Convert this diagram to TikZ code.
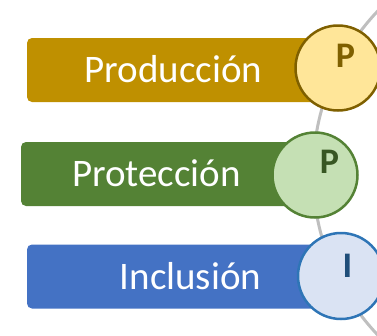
\documentclass[tikz,border=0pt]{standalone}
\usepackage{fontspec}
\setmainfont{Carlito}
\definecolor{goldbox}{HTML}{BF9000}
\definecolor{goldfill}{HTML}{FFE699}
\definecolor{golddark}{HTML}{7F6000}
\definecolor{greenbox}{HTML}{548235}
\definecolor{greenfill}{HTML}{C5E0B4}
\definecolor{greendark}{HTML}{385723}
\definecolor{bluebox}{HTML}{4472C4}
\definecolor{bluefill}{HTML}{DAE3F3}
\definecolor{blueline}{HTML}{2E75B6}
\definecolor{bluedark}{HTML}{1F4E79}
\definecolor{arcgrey}{HTML}{BFBFBF}
\tikzset{
  labelbox/.style={rectangle, rounded corners=5pt, draw=none, text=white,
    minimum height=64pt, inner sep=0pt, text height=25pt, text depth=0pt,
    font=\fontsize{39}{40}\selectfont},
  badge/.style={circle, line width=2.5pt, minimum size=#1, inner sep=0pt},
  letter/.style={anchor=base, inner sep=0pt, font=\fontsize{36}{37}\selectfont\bfseries}
}
\begin{document}
\begin{tikzpicture}[x=1pt,y=-1pt]
\useasboundingbox (0,0) rectangle (377,335);
% background arc
\begin{scope}
\clip (0,0) rectangle (377,335);
\draw[arcgrey, line width=3pt] (548,173) circle (235);
\end{scope}
% boxes
\node[labelbox, fill=goldbox, minimum width=293pt] (prod) at (173.5,70) {Producción};
\node[labelbox, fill=greenbox, minimum width=271pt] (prot) at (156.5,174) {Protección};
\node[labelbox, fill=bluebox, minimum width=327pt] (incl) at (190.5,276.5) {Inclusión};
% badges
\node[badge=85pt, fill=goldfill, draw=golddark] (c1) at (338,68) {};
\node[badge=85pt, fill=greenfill, draw=greenbox] (c2) at (315,175) {};
\node[badge=86pt, fill=bluefill, draw=blueline] (c3) at (341,276) {};
% letters
\node[letter, text=golddark] (l1) at (345.5,67) {P};
\node[letter, text=greendark] (l2) at (329.5,173) {P};
\node[letter, text=bluedark] (l3) at (347.5,277) {I};
\end{tikzpicture}
\end{document}
